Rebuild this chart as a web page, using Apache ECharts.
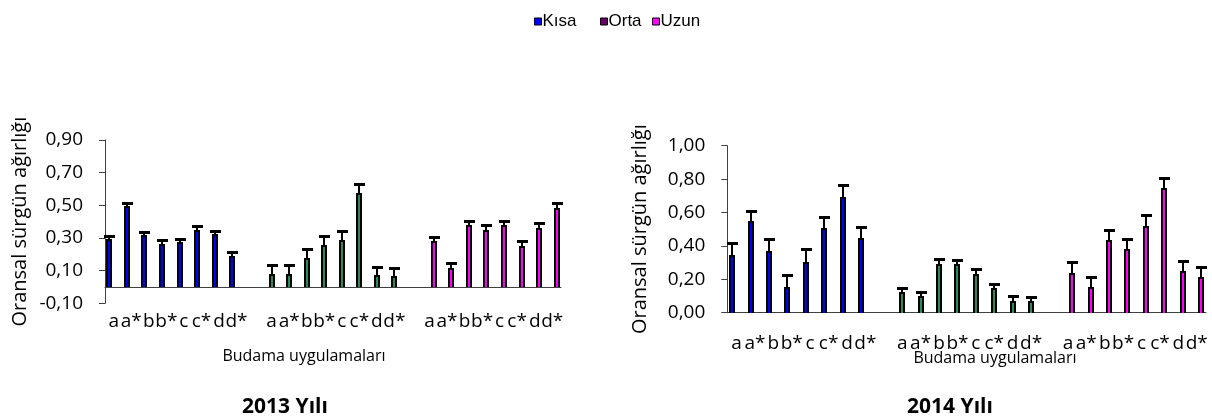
<!DOCTYPE html>
<html>
<head>
<meta charset="utf-8">
<script src="https://cdn.jsdelivr.net/npm/echarts@6/dist/echarts.min.js"></script>
<style>
  html, body { margin: 0; padding: 0; background: #fff; }
  #chart { width: 1212px; height: 416px; }
</style>
</head>
<body>
<div id="chart"></div>
<script>
// kategori etiketleri (her grup için)
const groupLabels = ['a', 'a*', 'b', 'b*', 'c', 'c*', 'd', 'd*']

// 2013 değerleri ve hata çubukları
const kisa2013 = [0.285, 0.487, 0.31, 0.259, 0.269, 0.345, 0.316, 0.184]
const kisa2013Err = [0.025, 0.025, 0.029, 0.026, 0.027, 0.026, 0.029, 0.028]
const orta2013 = [0.075, 0.075, 0.173, 0.253, 0.283, 0.569, 0.065, 0.061]
const orta2013Err = [0.062, 0.058, 0.06, 0.061, 0.057, 0.062, 0.059, 0.057]
const uzun2013 = [0.273, 0.108, 0.371, 0.345, 0.371, 0.243, 0.355, 0.479]
const uzun2013Err = [0.033, 0.037, 0.035, 0.035, 0.035, 0.036, 0.039, 0.035]

// 2014 değerleri ve hata çubukları
const kisa2014 = [0.341, 0.541, 0.365, 0.15, 0.299, 0.499, 0.685, 0.44]
const kisa2014Err = [0.078, 0.07, 0.075, 0.076, 0.081, 0.076, 0.08, 0.075]
const orta2014 = [0.116, 0.096, 0.286, 0.286, 0.226, 0.142, 0.066, 0.066]
const orta2014Err = [0.03, 0.028, 0.034, 0.03, 0.034, 0.03, 0.034, 0.03]
const uzun2014 = [0.232, 0.15, 0.429, 0.375, 0.515, 0.739, 0.246, 0.206]
const uzun2014Err = [0.07, 0.066, 0.066, 0.066, 0.068, 0.066, 0.065, 0.066]

// eksen işaretleri
const ticks2013 = { min: -0.1, max: 0.9, interval: 0.2 }
const ticks2014 = { min: 0, max: 1.0, interval: 0.2 }

// 3 grup, aralarında bir boş kategori
const categories = [...groupLabels, '', ...groupLabels, '', ...groupLabels]
const groupStart = [0, 9, 18]

const barData = (vals, errs, g) => vals.map((v, i) => [groupStart[g] + i, v, errs[i]])

const font = 'Open Sans'
const colors = { kisa: '#0000ff', orta: '#2e8b57', uzun: '#ff00ff' }

// çubuk + hata çubuğu (siyah çerçeveli ince çubuk, üstte T)
const barRender = (offset, color) => (params, api) => {
  const x = api.value(0)
  const v = api.value(1)
  const e = api.value(2)
  const base = api.coord([x, 0])
  const top = api.coord([x, v])
  const cap = api.coord([x, v + e])
  const cx = Math.round(base[0] + offset)
  const y0 = Math.round(base[1])
  const y1 = Math.round(top[1])
  const yc = Math.round(cap[1])
  return {
    type: 'group',
    children: [
      { type: 'rect', shape: { x: cx - 1, y: yc, width: 2, height: y1 - yc }, style: { fill: '#000' } },
      { type: 'rect', shape: { x: cx - 5, y: yc - 1, width: 11, height: 3 }, style: { fill: '#000' } },
      { type: 'rect', shape: { x: cx - 3, y: y1 - 1, width: 6, height: y0 - y1 + 1 }, style: { fill: '#000' } },
      { type: 'rect', shape: { x: cx - 1, y: y1 + 1, width: 2, height: y0 - y1 - 1 }, style: { fill: color } }
    ]
  }
}

const fmt = (v) => v.toFixed(2).replace('.', ',')

const xAxisOf = (gridIndex, margin) => ({
  type: 'category',
  gridIndex: gridIndex,
  data: categories,
  axisLine: { onZero: true, lineStyle: { color: '#404040', width: 1 } },
  axisTick: { interval: 0, length: 6, lineStyle: { color: '#404040' } },
  axisLabel: { interval: 0, margin: margin, fontFamily: font, fontSize: 19, color: '#000' }
})

const yAxisOf = (gridIndex, t, gap) => ({
  type: 'value',
  gridIndex: gridIndex,
  min: t.min,
  max: t.max,
  interval: t.interval,
  name: 'Oransal sürgün ağırlığı',
  nameLocation: 'middle',
  nameGap: gap,
  nameTextStyle: { fontFamily: font, fontSize: 20, color: '#000' },
  axisLine: { show: true, lineStyle: { color: '#404040' } },
  axisTick: { show: true, length: 6, lineStyle: { color: '#404040' } },
  splitLine: { show: false },
  axisLabel: { margin: 22, fontFamily: font, fontSize: 19, color: '#000', formatter: fmt }
})

const barOf = (name, idx, vals, errs, g, color, offset) => ({
  name: name,
  type: 'custom',
  xAxisIndex: idx,
  yAxisIndex: idx,
  data: barData(vals, errs, g),
  encode: { x: 0, y: 1 },
  renderItem: barRender(offset, color),
  itemStyle: { color: color },
  z: 5,
  silent: true
})

// her lejant öğesi ayrı konumlanıyor
const legendOf = (name, color, left) => ({
  top: 8,
  left: left,
  itemWidth: 7,
  itemHeight: 7,
  icon: 'rect',
  selectedMode: false,
  textStyle: { fontFamily: 'Liberation Sans', fontSize: 17, color: '#000', padding: [0, 0, 0, -4] },
  data: [{ name: name, itemStyle: { color: color, borderColor: '#000', borderWidth: 1 } }]
})

const myChart = echarts.init(document.getElementById('chart'))
const option = {
  animation: false,
  backgroundColor: '#fff',
  legend: [
    legendOf('Kısa', colors.kisa, 529),
    legendOf('Orta', '#660066', 595),
    legendOf('Uzun', colors.uzun, 647)
  ],
  grid: [
    { left: 105, top: 140, width: 456, height: 163.3 },
    { left: 727.3, top: 145.7, width: 478.7, height: 167 }
  ],
  xAxis: [xAxisOf(0, 9), xAxisOf(1, 21)],
  yAxis: [yAxisOf(0, ticks2013, 75), yAxisOf(1, ticks2014, 77)],
  series: [
    barOf('Kısa', 0, kisa2013, kisa2013Err, 0, colors.kisa, -4.4),
    barOf('Orta', 0, orta2013, orta2013Err, 1, colors.orta, 0),
    barOf('Uzun', 0, uzun2013, uzun2013Err, 2, colors.uzun, 4.4),
    barOf('Kısa', 1, kisa2014, kisa2014Err, 0, colors.kisa, -4.3),
    barOf('Orta', 1, orta2014, orta2014Err, 1, colors.orta, 0),
    barOf('Uzun', 1, uzun2014, uzun2014Err, 2, colors.uzun, 4.3)
  ],
  graphic: [
    { type: 'text', x: 304, y: 356, style: { text: 'Budama uygulamaları', font: '16px "Open Sans"', fill: '#000', textAlign: 'center', textVerticalAlign: 'middle' } },
    { type: 'text', x: 995, y: 358, style: { text: 'Budama uygulamaları', font: '16px "Open Sans"', fill: '#000', textAlign: 'center', textVerticalAlign: 'middle' } },
    { type: 'text', x: 285, y: 407, style: { text: '2013 Yılı', font: 'bold 21px "Open Sans"', fill: '#000', textAlign: 'center', textVerticalAlign: 'middle' } },
    { type: 'text', x: 950, y: 407, style: { text: '2014 Yılı', font: 'bold 21px "Open Sans"', fill: '#000', textAlign: 'center', textVerticalAlign: 'middle' } }
  ]
}
myChart.setOption(option)
</script>
</body>
</html>
